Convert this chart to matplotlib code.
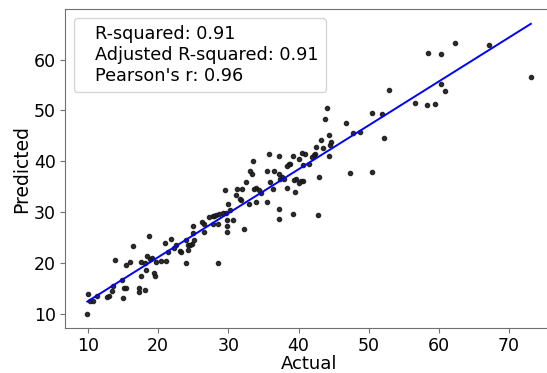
import numpy as np
import matplotlib
matplotlib.use("Agg")
import matplotlib.pyplot as plt

# Actual vs predicted values
actual = [
    10.0, 9.9, 10.3, 10.7, 11.3, 12.7, 13.0, 13.4, 13.5, 13.9,
    14.9, 15.1, 15.4, 15.0, 15.4, 16.0, 16.4, 17.2, 17.3, 17.5,
    17.5, 18.1, 18.1, 18.3, 18.4, 18.7, 18.8, 19.1, 19.4, 19.5,
    19.7, 20.4, 21.0, 21.1, 21.4, 21.9, 22.3, 22.6, 23.1, 23.3,
    23.9, 23.9, 24.2, 24.3, 24.5, 24.8, 24.9, 24.9, 25.1, 26.5,
    26.6, 26.2, 27.2, 27.8, 27.8, 28.0, 28.3, 28.5, 28.5, 28.7,
    29.3, 29.5, 29.6, 29.8, 29.8, 29.8, 29.9, 30.3, 30.7, 31.1,
    31.3, 31.6, 31.8, 31.9, 32.2, 32.5, 32.9, 33.1, 33.3, 33.5,
    33.6, 33.9, 34.0, 34.4, 34.6, 35.5, 35.5, 35.8, 36.0, 36.3,
    36.5, 37.2, 37.2, 37.2, 37.2, 37.4, 37.6, 38.0, 38.4, 38.3,
    38.6, 38.8, 39.2, 39.2, 39.3, 39.5, 39.6, 40.0, 40.0, 40.3,
    40.6, 40.5, 40.7, 40.9, 41.5, 41.9, 42.2, 42.3, 42.5, 42.8,
    42.9, 43.2, 43.5, 43.8, 44.0, 44.3, 44.3, 44.5, 44.6, 46.8,
    47.3, 47.7, 48.8, 50.4, 50.4, 51.9, 52.2, 52.9, 56.6, 58.3,
    58.4, 59.5, 60.3, 60.3, 60.9, 62.3, 67.2, 73.1,
]
predicted = [
    13.9, 10.0, 12.45, 12.45, 13.4, 13.2, 13.4, 14.5, 15.5, 20.5,
    16.6, 15.0, 15.0, 13.0, 19.6, 20.2, 23.4, 14.3, 15.0, 17.5,
    20.1, 14.6, 20.0, 18.7, 21.3, 25.2, 20.8, 21.0, 18.1, 17.4,
    20.2, 20.3, 23.9, 20.3, 22.1, 24.7, 22.9, 23.5, 22.3, 22.1,
    20.0, 24.6, 23.5, 22.6, 23.5, 23.7, 25.8, 27.2, 24.6, 26.1,
    27.7, 28.1, 29.0, 29.2, 27.7, 29.2, 29.5, 19.9, 27.6, 29.7,
    29.9, 34.3, 29.8, 27.2, 26.1, 28.5, 31.6, 30.5, 28.5, 33.4,
    34.5, 32.5, 32.3, 34.6, 26.6, 36.0, 31.6, 38.1, 37.4, 40.0,
    34.6, 34.8, 31.9, 34.3, 33.7, 38.1, 31.9, 41.5, 35.9, 34.5,
    38.1, 41.1, 30.6, 28.6, 37.4, 36.5, 36.8, 36.6, 34.8, 39.0,
    39.4, 39.5, 41.0, 29.7, 36.3, 33.9, 36.5, 40.5, 35.7, 36.1,
    36.1, 41.6, 39.2, 41.5, 39.4, 40.8, 41.3, 41.5, 42.8, 29.4,
    36.9, 44.2, 42.6, 48.4, 50.5, 45.2, 41.0, 43.2, 43.7, 47.5,
    37.7, 45.5, 45.8, 49.5, 37.9, 49.2, 44.6, 54.1, 51.4, 51.1,
    61.2, 51.2, 61.0, 55.1, 53.8, 63.2, 62.8, 56.6,
]
stats_text = "R-squared: 0.91\nAdjusted R-squared: 0.91\nPearson's r: 0.96"

x = np.array(actual)
y = np.array(predicted)

# Fit line
slope, intercept = np.polyfit(x, y, 1)
xs = np.array([x.min(), x.max()])

fig = plt.figure(figsize=(5.47, 3.73), dpi=100)
ax = fig.add_axes([0.119, 0.12, 0.892, 0.855])

ax.scatter(x, y, s=9, color="#1a1a1a", alpha=0.9)
ax.plot(xs, slope * xs + intercept, color="blue", linewidth=1.4)

ax.set_xlabel("Actual", fontsize=13, labelpad=0)
ax.set_ylabel("Predicted", fontsize=13.5, labelpad=2)
ax.tick_params(labelsize=12.5, color="#707070", pad=3)
for sp in ax.spines.values():
    sp.set_color("#707070")
# original image is cropped just before the right spine
ax.spines["right"].set_visible(False)

empty = plt.Line2D([], [], linestyle="none")
ax.legend([empty], [stats_text], loc="upper left", fontsize=12.7,
          handlelength=0, handletextpad=0.8)

fig.savefig("out.png", dpi=100)
